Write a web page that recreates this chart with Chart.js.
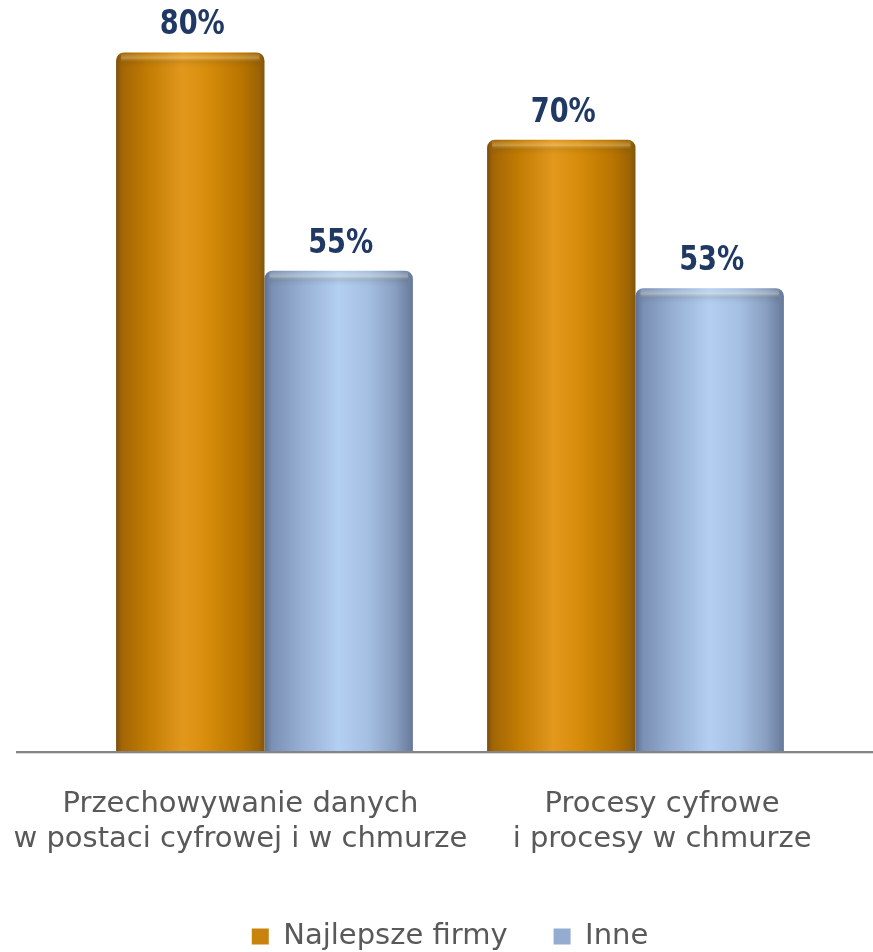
<!DOCTYPE html>
<html lang="pl">
<head>
<meta charset="utf-8">
<title>Najlepsze firmy vs inne</title>
<script src="https://cdn.jsdelivr.net/npm/chart.js@4.4.1/dist/chart.umd.min.js"></script>
<style>
  html, body { margin: 0; padding: 0; background: #fff; }
  #wrap { width: 873px; height: 952px; overflow: hidden; }
</style>
</head>
<body>
<div id="wrap"><canvas id="chart" width="873" height="952"></canvas></div>
<script>
// ======================
// dane
const categories = [
  ["Przechowywanie danych", "w postaci cyfrowej i w chmurze"],
  ["Procesy cyfrowe", "i procesy w chmurze"]
];
const seriesNames = ["Najlepsze firmy", "Inne"];
const najlepsze = [80, 70];
const inne = [55, 53];
// ======================

const el = (id) => document.getElementById(id);

// cylinder look: horizontal shading across each bar
const SHADES = {
  orange: {
    flat: "#c8830c",
    stops: [[0, "#7a4d0c"], [0.04, "#a36606"], [0.2, "#c07a02"], [0.45, "#e3981d"],
            [0.62, "#d68c0b"], [0.85, "#b87400"], [0.96, "#9c6404"], [1, "#80560f"]]
  },
  blue: {
    flat: "#93acd0",
    stops: [[0, "#5e6f90"], [0.05, "#7a90b4"], [0.25, "#96afd3"], [0.5, "#b3cff1"],
            [0.7, "#a5bfe2"], [0.88, "#889fc1"], [1, "#67799a"]]
  }
};

const shadeBars = {
  id: "shadeBars",
  beforeDatasetsDraw(chart){
    const ctx = chart.ctx;
    chart.data.datasets.forEach((ds, i) => {
      const shade = SHADES[ds.shade];
      chart.getDatasetMeta(i).data.forEach(bar => {
        const g = ctx.createLinearGradient(bar.x - bar.width / 2, 0, bar.x + bar.width / 2, 0);
        shade.stops.forEach(([o, c]) => g.addColorStop(o, c));
        bar.options.backgroundColor = g;
      });
    });
  },
  afterDatasetsDraw(chart){
    const ctx = chart.ctx;
    ctx.save();
    chart.data.datasets.forEach((ds, i) => {
      chart.getDatasetMeta(i).data.forEach((bar, j) => {
        // soft highlight just under the rounded top
        const left = bar.x - bar.width / 2 + 5;
        const g = ctx.createLinearGradient(0, bar.y, 0, bar.y + 16);
        g.addColorStop(0, "rgba(255,255,255,0)");
        g.addColorStop(0.35, "rgba(255,244,200,0.3)");
        g.addColorStop(0.7, "rgba(0,0,0,0.04)");
        g.addColorStop(1, "rgba(0,0,0,0)");
        ctx.fillStyle = g;
        ctx.fillRect(left, bar.y + 1, bar.width - 10, 16);

        // value label above the bar
        const txt = ds.data[j] + "%";
        ctx.save();
        ctx.translate(bar.x + 2, bar.y - 27);
        ctx.scale(0.8, 1);
        ctx.font = "bold 34px 'DejaVu Sans'";
        ctx.fillStyle = "#1f3864";
        ctx.textAlign = "center";
        ctx.textBaseline = "middle";
        ctx.fillText(txt, 0, 0);
        ctx.restore();
      });
    });
    ctx.restore();
  }
};

// baseline runs almost the full width of the picture
const baseLine = {
  id: "baseLine",
  afterDatasetsDraw(chart){
    const ctx = chart.ctx;
    const y = Math.round(chart.scales.y.getPixelForValue(0));
    ctx.save();
    ctx.fillStyle = "#858585";
    ctx.fillRect(16, y, chart.width - 16, 2);
    ctx.fillStyle = "rgba(150,150,150,0.35)";
    ctx.fillRect(16, y + 2, chart.width - 16, 1);
    ctx.restore();
  }
};

function renderChart(){
  new Chart(el("chart").getContext("2d"), {
    type: "bar",
    data: {
      labels: categories,
      datasets: [
        { label: seriesNames[0], data: najlepsze, shade: "orange", backgroundColor: () => SHADES.orange.flat },
        { label: seriesNames[1], data: inne, shade: "blue", backgroundColor: () => SHADES.blue.flat }
      ]
    },
    options: {
      responsive: false,
      animation: false,
      layout: { padding: { left: 79, right: 52, top: 0, bottom: -9 } },
      datasets: {
        bar: {
          categoryPercentage: 0.8,
          barPercentage: 1,
          borderRadius: { topLeft: 8, topRight: 8, bottomLeft: 0, bottomRight: 0 },
          borderSkipped: "bottom"
        }
      },
      scales: {
        x: {
          display: false
        },
        // category names sit a bit wider apart than the bar groups
        xl: {
          type: "linear",
          position: "bottom",
          offset: false,
          min: -0.383,
          max: 1.377,
          grid: { display: false, drawTicks: false, offset: false },
          border: { display: false },
          afterBuildTicks: (scale) => {
            scale.ticks = categories.map((_, i) => ({ value: i }));
          },
          ticks: {
            color: "#595959",
            padding: 36,
            maxRotation: 0,
            autoSkip: false,
            font: { family: "'DejaVu Sans'", size: 29, lineHeight: 1.2 },
            callback: (v) => categories[v]
          },
          afterFit: (scale) => {
            scale.height = 125;
            scale.paddingLeft = 0;
            scale.paddingRight = 0;
          }
        },
        y: {
          display: false,
          min: 0,
          max: 86
        }
      },
      plugins: {
        legend: {
          position: "bottom",
          labels: {
            color: "#595959",
            boxWidth: 17,
            boxHeight: 16,
            padding: 46,
            font: { family: "'DejaVu Sans'", size: 29 }
          }
        },
        tooltip: { enabled: false }
      }
    },
    plugins: [shadeBars, baseLine]
  });
}

renderChart();
</script>
</body>
</html>
